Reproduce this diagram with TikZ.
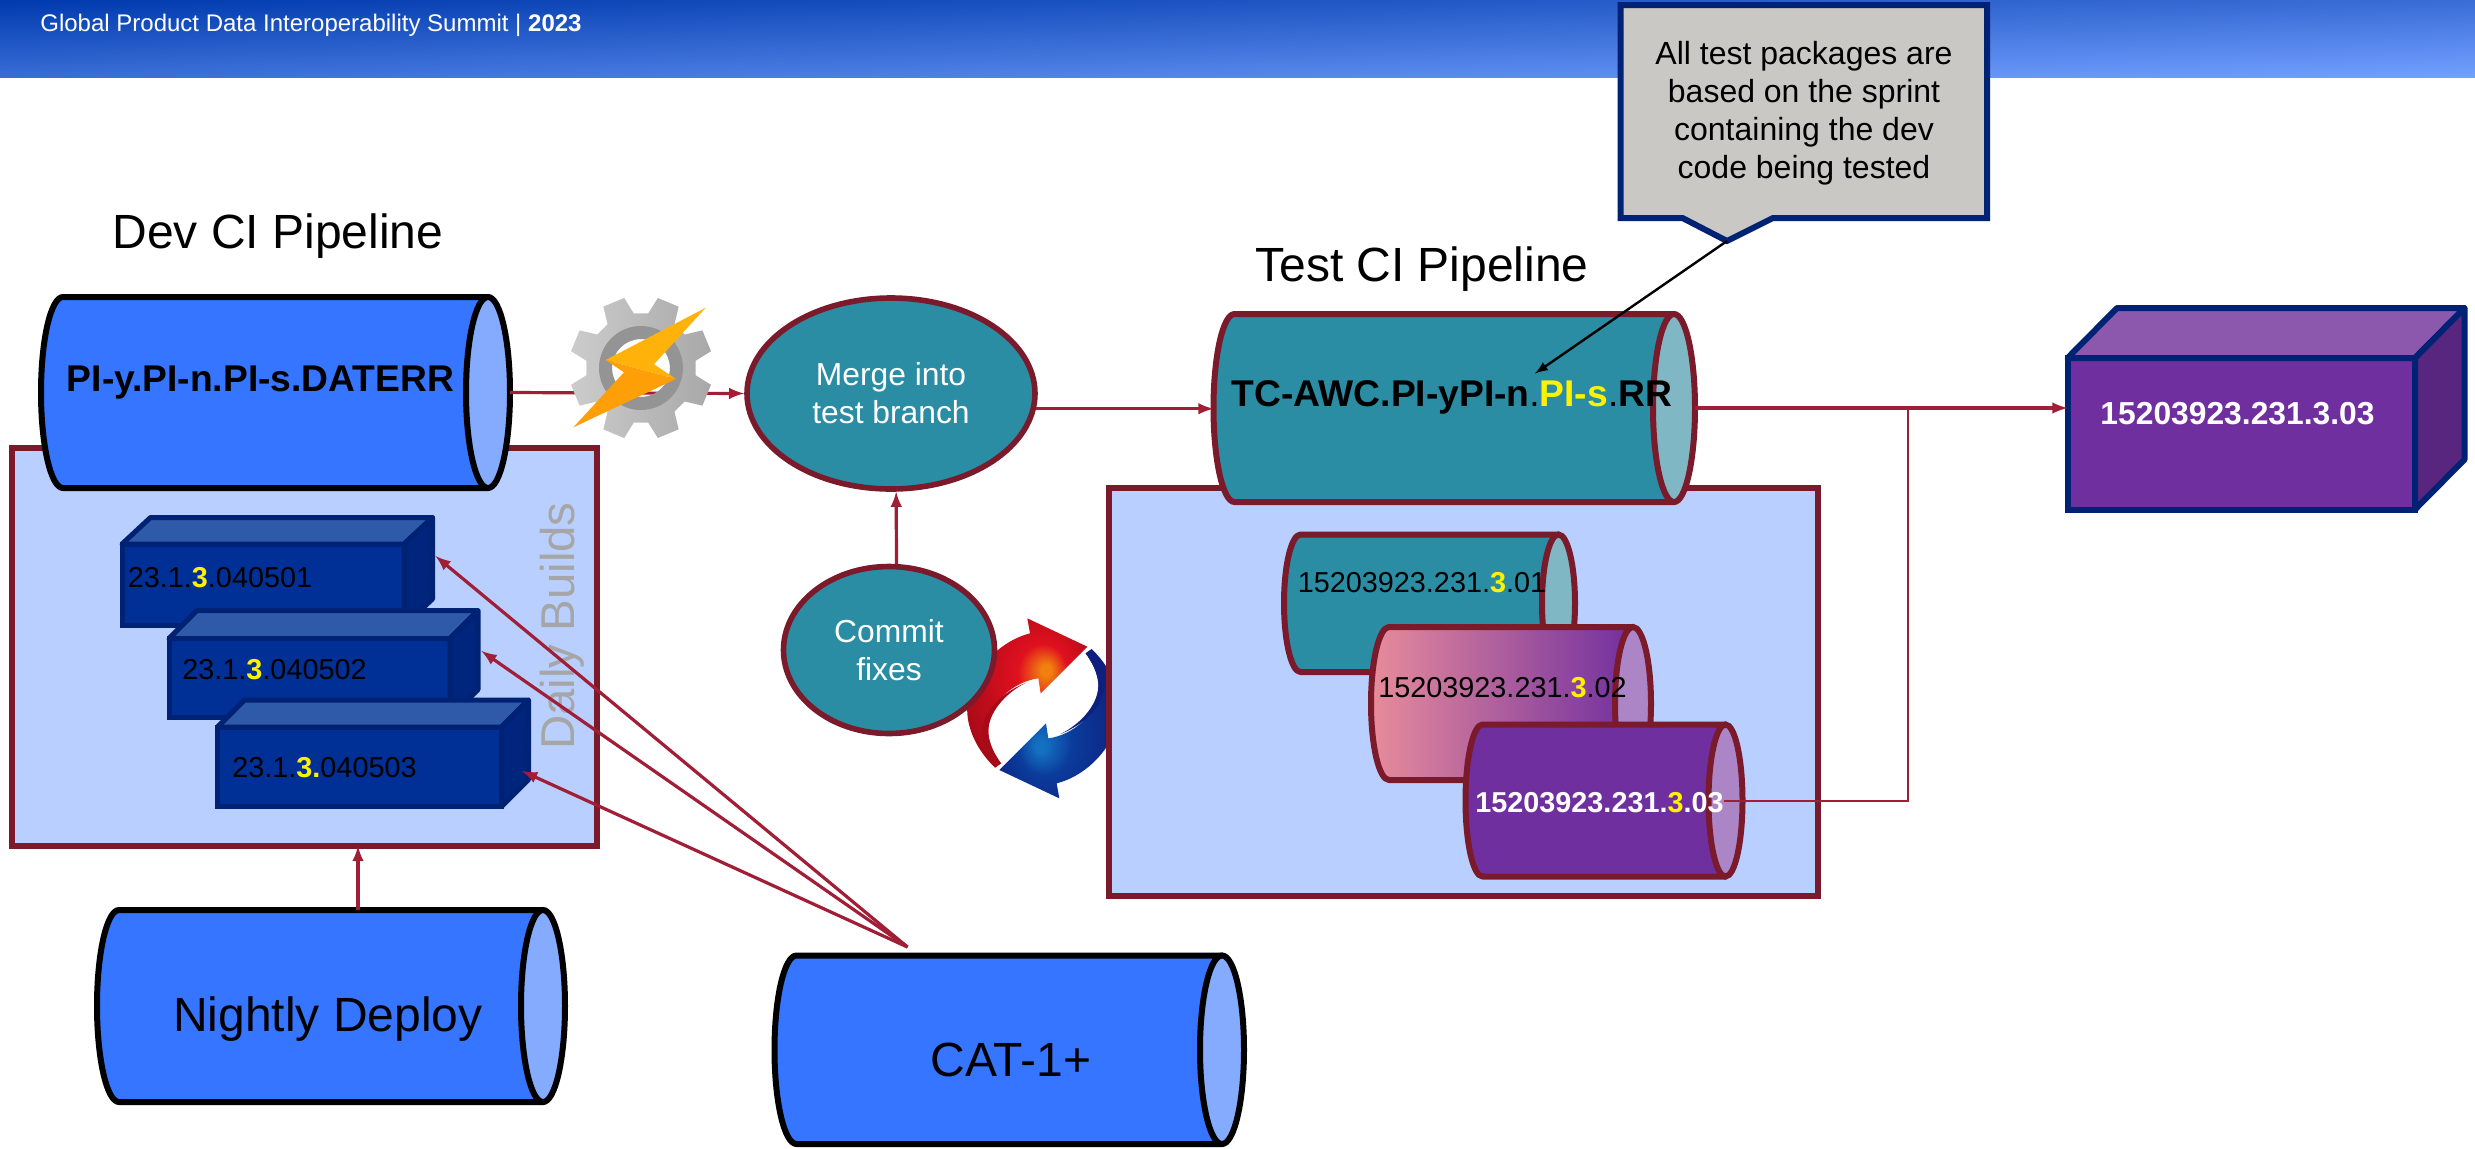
\documentclass[tikz,border=0pt]{standalone}
\usepackage{fontspec}
\setmainfont{Liberation Sans}
\usetikzlibrary{shapes.geometric}
\definecolor{pipeblue}{HTML}{3575FF}
\definecolor{capblue}{HTML}{85ABFF}
\definecolor{teal}{HTML}{2A8DA3}
\definecolor{capteal}{HTML}{7FB7C5}
\definecolor{plum}{HTML}{702F9F}
\definecolor{capplum}{HTML}{AC85C6}
\definecolor{rosy}{HTML}{E88C9B}
\definecolor{maroon}{HTML}{7B1A2B}
\definecolor{flowred}{HTML}{A01F36}
\definecolor{boxblue}{HTML}{B8CFFF}
\definecolor{navy}{HTML}{002274}
\definecolor{boltup}{HTML}{FFB30A}
\definecolor{boltlow}{HTML}{FF9F08}
\definecolor{swirlo}{HTML}{F0800F}
\definecolor{swirlr}{HTML}{E0101F}
\definecolor{swirld}{HTML}{A80A18}
\definecolor{swirll}{HTML}{1470C0}
\definecolor{swirlm}{HTML}{0A3C9C}
\definecolor{swirln}{HTML}{0F1F7D}
\pgfdeclarefunctionalshading{hdrshade}{\pgfpoint{-50bp}{-50bp}}{\pgfpoint{50bp}{50bp}}{}{sub 50 add 100 div dup 0.447 mul exch dup 0.4 mul 0.227 add exch 0.32 mul 0.68 add}
\pgfdeclareradialshading{swirlred}{\pgfpoint{9bp}{8bp}}{color(0bp)=(swirlo); color(2bp)=(swirlo); color(10bp)=(swirlr); color(30bp)=(swirld); color(50bp)=(swirld)}
\pgfdeclareradialshading{swirlblue}{\pgfpoint{-9bp}{-8bp}}{color(0bp)=(swirll); color(2bp)=(swirll); color(11bp)=(swirlm); color(30bp)=(swirln); color(50bp)=(swirln)}
\newcommand{\yl}[1]{\textcolor{yellow}{\textbf{#1}}}
\newcommand{\drum}[8]{%
\pgfmathsetmacro{\dry}{(#5-#4)/2}
\pgfmathsetmacro{\drm}{(#5+#4)/2}
\pgfmathsetmacro{\drl}{#2+#6}
\pgfmathsetmacro{\drr}{#3-#6}
\node[drumbox,minimum width={(#3-#2)*0.5pt},minimum height={(#5-#4)*0.5pt}] (#1) at ({(#2+#3)/2},\drm) {};
\draw[#7] (\drl,#4) -- (\drr,#4) -- (\drr,#5) -- (\drl,#5) arc[start angle=90,delta angle=180,x radius=#6,y radius=\dry] -- cycle;
\draw[#8] (\drr,\drm) ellipse[x radius=#6,y radius=\dry];
}
\newcommand{\crate}[8]{%
\node[#8front,minimum width={(#3-#2)*0.5pt},minimum height={(#5-#4)*0.5pt}] (#1) at ({(#2+#3)/2},{(#4+#5)/2}) {};
\draw[#8top] (#1.north west) -- ++(#6,-#7) -- ++({#3-#2},0) -- (#1.north east) -- cycle;
\draw[#8side] (#1.north east) -- ++(#6,-#7) -- ++(0,{#5-#4}) -- (#1.south east) -- cycle;
}
\newcommand{\swirlhalf}[3]{%
\begin{scope}[rotate around={#1:(280,325)}]
\shade[shading=#2] (135,503) .. controls (60,430) and (35,340) .. (62,270) .. controls (85,190) and (160,120) .. (240,100) -- (232,55) -- (412,140) -- (272,280) -- (265,235) .. controls (190,245) and (110,310) .. (115,400) .. controls (118,435) and (135,465) .. (153,490) -- cycle;
\fill[#3] (228,248) .. controls (150,280) and (90,340) .. (97,410) .. controls (100,445) and (118,480) .. (136,502) -- (153,490) .. controls (135,465) and (118,435) .. (115,400) .. controls (112,340) and (165,280) .. (228,248) -- cycle;
\end{scope}
}
\begin{document}
\begin{tikzpicture}[>=latex,x=0.5pt,y=-0.5pt,
drumbox/.style={inner sep=0pt,outer sep=0pt},
bluebody/.style={draw=black,line width=3pt,fill=pipeblue,line join=round},
bluecap/.style={draw=black,line width=3pt,fill=capblue},
tealbody/.style={draw=maroon,line width=3pt,fill=teal,line join=round},
tealcap/.style={draw=maroon,line width=3pt,fill=capteal},
rosybody/.style={draw=maroon,line width=3pt,left color=rosy,right color=plum,line join=round},
plumbody/.style={draw=maroon,line width=3pt,fill=plum,line join=round},
plumcap/.style={draw=maroon,line width=3pt,fill=capplum},
buildfront/.style={draw=navy,line width=2.5pt,fill={rgb,255:red,0;green,47;blue,150},inner sep=0pt,outer sep=0pt},
buildtop/.style={draw=navy,line width=2.5pt,fill={rgb,255:red,47;green,89;blue,169},line join=round},
buildside/.style={draw=navy,line width=2.5pt,fill={rgb,255:red,0;green,37;blue,125},line join=round},
cubefront/.style={draw=navy,line width=3pt,fill=plum,inner sep=0pt,outer sep=0pt},
cubetop/.style={draw=navy,line width=3pt,fill={rgb,255:red,139;green,88;blue,174},line join=round},
cubeside/.style={draw=navy,line width=3pt,fill={rgb,255:red,89;green,38;blue,127},line join=round},
panel/.style={draw=maroon,line width=3pt,fill=boxblue,inner sep=0pt,outer sep=0pt},
bubble/.style={ellipse,draw=maroon,line width=2.8pt,fill=teal,inner sep=0pt,text=white,align=center,font=\fontsize{15.9}{19}\selectfont},
flow/.style={draw=flowred,line width=1.6pt},
wire/.style={draw=flowred,line width=1pt},
bigtext/.style={inner sep=0pt,font=\fontsize{24}{28}\selectfont},
pipetext/.style={inner sep=0pt,font=\bfseries\fontsize{18.6}{22}\selectfont},
buildtext/.style={inner sep=0pt,font=\fontsize{14.4}{17}\selectfont},
notetext/.style={inner sep=0pt,align=center,font=\fontsize{16}{19}\selectfont}]
\useasboundingbox (0,0) rectangle (2475,1148);
\shade[shading=hdrshade] (0,0) rectangle (2475,77);
\node[inner sep=0pt,anchor=west,text=white,font=\fontsize{12}{14}\selectfont] (summit) at (40,25) {Global Product Data Interoperability Summit | \textbf{2023}};
\node[bigtext] (devtitle) at (278,236) {Dev CI Pipeline};
\node[bigtext] (testtitle) at (1422,269) {Test CI Pipeline};
\node[panel,minimum width=292.5pt,minimum height=199pt] (dailybox) at (304.5,647) {};
\node[rotate=90,text={rgb,255:red,166;green,166;blue,166},inner sep=0pt,font=\fontsize{23.7}{28}\selectfont] (dailytext) at (562,626) {Daily Builds};
\drum{dev}{41}{510}{297}{488}{22}{bluebody}{bluecap}
\node[pipetext] (devtext) at (260.5,383) {PI-y.PI-n.PI-s.DATERR};
\crate{b1}{122}{404}{544}{625.5}{28.5}{26.5}{build}
\crate{b2}{169}{450}{638.5}{717.5}{28}{28}{build}
\crate{b3}{217.5}{501.5}{727}{806.5}{27}{27}{build}
\node[buildtext] (b1text) at (220,578) {23.1.\yl{3}.040501};
\node[buildtext] (b2text) at (274.5,670) {23.1.\yl{3}.040502};
\node[buildtext] (b3text) at (324.5,768) {23.1.\yl{3.}040503};
\drum{nightly}{97}{565}{910}{1102}{22}{bluebody}{bluecap}
\node[bigtext] (nightlytext) at (328,1019) {Nightly Deploy};
\drum{cat}{774.5}{1244}{955.5}{1144}{22}{bluebody}{bluecap}
\node[bigtext] (cattext) at (1011,1060) {CAT-1+};
\begin{scope}[shift={(950,600)},scale=0.33333]
\swirlhalf{0}{swirlred}{swirld}
\swirlhalf{180}{swirlblue}{swirln}
\end{scope}
\node[panel,minimum width=354.75pt,minimum height=204pt] (testbox) at (1463.3,692) {};
\coordinate (nightlytap) at (358,910);
\coordinate (catfan) at (907.5,947);
\coordinate (b1hit) at (435.5,556);
\coordinate (b2hit) at (481.5,651);
\coordinate (b3hit) at (522,771);
\draw[flow,->] (nightlytap) -- (nightlytap |- dailybox.south);
\draw[flow,->] (catfan) -- (b1hit);
\draw[flow,->] (catfan) -- (b2hit);
\draw[flow,->] (catfan) -- (b3hit);
\node[bubble,minimum width=144pt,minimum height=95.5pt] (merge) at (891,393.5) {Merge into\\test branch};
\node[bubble,minimum width=105.5pt,minimum height=83.5pt] (commit) at (889,650) {Commit\\fixes};
\drum{test}{1213.5}{1695}{314}{502}{21}{tealbody}{tealcap}
\crate{result}{2067.5}{2415}{358}{509.5}{49.5}{50}{cube}
\node[inner sep=0pt,text=white,font=\bfseries\fontsize{15.9}{19}\selectfont] (resulttext) at (2237.5,414) {15203923.231.3.03};
\draw[flow,->] (dev.east) -- (merge.west);
\draw[flow,->] (commit.85) -- (merge.-87);
\draw[flow,->] (merge.-6) -- (merge.-6 -| test.west);
\draw[flow,->] (test.east) -- (test.east -| result.west);
\begin{scope}[shift={(641,368)}]
\shade[left color=black!20,right color=black!34,even odd rule] (7.5:55) foreach \a in {22.5,67.5,...,337.5} { -- (\a-15:55) -- (\a-9:72) -- (\a+9:72) -- (\a+15:55) } -- cycle (0,0) circle (29);
\fill[black!42,even odd rule] (0,0) circle (42) (0,0) circle (29);
\end{scope}
\fill[boltup] (705.7,307.7) -- (605.7,360) -- (676,379) -- (654,364.3) -- cycle;
\fill[boltlow] (605.7,360) -- (624,372.3) -- (573.3,427.3) -- (676,379) -- cycle;
\drum{c1}{1284}{1575}{534.5}{672}{16.5}{tealbody}{tealcap}
\node[buildtext] (c1text) at (1422,583) {15203923.231.\yl{3}.01};
\drum{c2}{1371}{1651}{627}{780}{18}{rosybody}{plumcap}
\node[buildtext] (c2text) at (1502.5,688) {15203923.231.\yl{3}.02};
\drum{c3}{1465.5}{1742.5}{724.5}{876.5}{17}{plumbody}{plumcap}
\node[buildtext,text=white,font=\bfseries\fontsize{14.4}{17}\selectfont] (c3text) at (1599.5,803) {15203923.231.\yl{3}.03};
\coordinate (c3tap) at (1724,801);
\coordinate (outtap) at (1908,407.5);
\draw[wire] (c3tap) -| (outtap);
\node[pipetext] (testtext) at (1452,397) {TC-AWC.PI-yPI-n{\mdseries.}\textcolor{yellow}{PI-s}{\mdseries.}RR};
\coordinate (notetip) at (1727,241);
\coordinate (notehit) at (1535,373.5);
\draw[draw=navy,line width=3pt,fill={rgb,255:red,201;green,200;blue,196},line join=miter] (1620.5,5) -- (1987,5) -- (1987,218) -- (1773,218) -- (notetip) -- (1682.5,218) -- (1620.5,218) -- cycle;
\node[notetext] (note) at (1804,113.5) {All test packages are\\based on the sprint\\containing the dev\\code being tested};
\draw[->,line width=1.2pt] (notetip) -- (notehit);
\end{tikzpicture}
\end{document}
